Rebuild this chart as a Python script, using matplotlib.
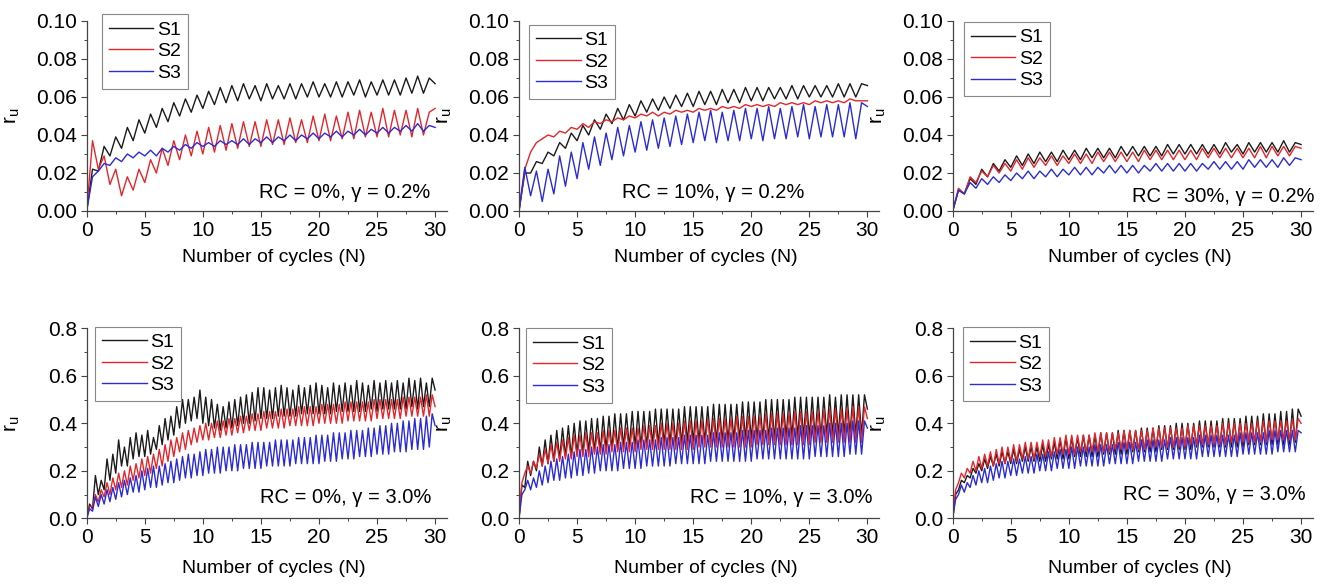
import numpy as np
import matplotlib
matplotlib.use("Agg")
import matplotlib.pyplot as plt
from matplotlib.ticker import MultipleLocator, FormatStrFormatter

plt.rcParams['font.family'] = ['Liberation Sans', 'DejaVu Sans']
plt.rcParams['mathtext.fontset'] = 'custom'
plt.rcParams['mathtext.rm'] = 'Liberation Sans'

# r_u: peak / trough of every load half-period
# top row (gamma = 0.2%): one oscillation per cycle, bottom row (3.0%): two per cycle
tl_s1_pk = [0.022, 0.034, 0.039, 0.044, 0.048, 0.051, 0.054, 0.057, 0.059, 0.061,
            0.063, 0.065, 0.066, 0.067, 0.066, 0.067, 0.066, 0.067, 0.067, 0.068,
            0.067, 0.068, 0.068, 0.069, 0.068, 0.069, 0.069, 0.070, 0.071, 0.070]
tl_s1_tr = [0.021, 0.029, 0.033, 0.037, 0.041, 0.044, 0.047, 0.050, 0.052, 0.054,
            0.056, 0.057, 0.058, 0.059, 0.058, 0.059, 0.059, 0.059, 0.060, 0.060,
            0.060, 0.060, 0.061, 0.060, 0.061, 0.061, 0.061, 0.062, 0.062, 0.067]
tl_s2_pk = [0.037, 0.029, 0.022, 0.018, 0.022, 0.027, 0.033, 0.037, 0.040, 0.042,
            0.044, 0.045, 0.046, 0.047, 0.047, 0.048, 0.048, 0.049, 0.048, 0.050,
            0.051, 0.050, 0.052, 0.053, 0.052, 0.054, 0.053, 0.053, 0.054, 0.052]
tl_s2_tr = [0.022, 0.014, 0.008, 0.011, 0.015, 0.020, 0.024, 0.027, 0.029, 0.030,
            0.031, 0.032, 0.033, 0.034, 0.034, 0.035, 0.035, 0.036, 0.036, 0.037,
            0.037, 0.038, 0.038, 0.039, 0.039, 0.039, 0.040, 0.039, 0.040, 0.054]
tl_s3_pk = [0.018, 0.025, 0.028, 0.030, 0.031, 0.032, 0.033, 0.034, 0.035, 0.036,
            0.036, 0.037, 0.037, 0.038, 0.038, 0.039, 0.039, 0.040, 0.040, 0.041,
            0.041, 0.042, 0.042, 0.043, 0.043, 0.044, 0.044, 0.045, 0.046, 0.045]
tl_s3_tr = [0.021, 0.024, 0.026, 0.028, 0.029, 0.029, 0.031, 0.032, 0.033, 0.034,
            0.034, 0.035, 0.035, 0.035, 0.036, 0.036, 0.037, 0.037, 0.038, 0.038,
            0.039, 0.039, 0.040, 0.040, 0.041, 0.041, 0.042, 0.042, 0.042, 0.044]

tm_s1_pk = [0.020, 0.026, 0.031, 0.036, 0.041, 0.045, 0.048, 0.051, 0.054, 0.056,
            0.058, 0.059, 0.060, 0.061, 0.062, 0.063, 0.063, 0.064, 0.064, 0.065,
            0.065, 0.065, 0.065, 0.066, 0.066, 0.066, 0.066, 0.067, 0.067, 0.067]
tm_s1_tr = [0.020, 0.025, 0.029, 0.033, 0.037, 0.040, 0.043, 0.046, 0.048, 0.050,
            0.052, 0.053, 0.054, 0.055, 0.055, 0.056, 0.056, 0.057, 0.057, 0.058,
            0.058, 0.059, 0.059, 0.059, 0.060, 0.060, 0.060, 0.060, 0.060, 0.066]
tm_s2_pk = [0.022, 0.036, 0.040, 0.042, 0.044, 0.046, 0.047, 0.048, 0.049, 0.050,
            0.051, 0.052, 0.052, 0.053, 0.053, 0.054, 0.054, 0.055, 0.055, 0.056,
            0.056, 0.056, 0.057, 0.057, 0.057, 0.058, 0.058, 0.058, 0.059, 0.058]
tm_s2_tr = [0.031, 0.038, 0.039, 0.041, 0.043, 0.044, 0.046, 0.047, 0.048, 0.049,
            0.050, 0.050, 0.051, 0.052, 0.052, 0.053, 0.053, 0.054, 0.054, 0.055,
            0.055, 0.055, 0.056, 0.056, 0.056, 0.057, 0.057, 0.057, 0.058, 0.058]
tm_s3_pk = [0.023, 0.021, 0.022, 0.029, 0.031, 0.036, 0.039, 0.041, 0.044, 0.045,
            0.047, 0.048, 0.049, 0.050, 0.051, 0.052, 0.053, 0.052, 0.053, 0.054,
            0.054, 0.055, 0.054, 0.055, 0.056, 0.055, 0.056, 0.056, 0.057, 0.057]
tm_s3_tr = [0.008, 0.005, 0.009, 0.013, 0.017, 0.022, 0.024, 0.027, 0.029, 0.031,
            0.032, 0.033, 0.034, 0.035, 0.036, 0.037, 0.036, 0.037, 0.037, 0.038,
            0.037, 0.038, 0.038, 0.039, 0.038, 0.039, 0.039, 0.039, 0.038, 0.055]

tr_s1_pk = [0.011, 0.017, 0.022, 0.025, 0.027, 0.029, 0.030, 0.031, 0.031, 0.032,
            0.032, 0.033, 0.033, 0.033, 0.034, 0.034, 0.034, 0.034, 0.035, 0.035,
            0.035, 0.035, 0.035, 0.036, 0.035, 0.036, 0.036, 0.036, 0.037, 0.036]
tr_s1_tr = [0.009, 0.014, 0.018, 0.021, 0.023, 0.024, 0.025, 0.026, 0.026, 0.027,
            0.027, 0.028, 0.028, 0.028, 0.029, 0.029, 0.029, 0.029, 0.030, 0.030,
            0.030, 0.030, 0.030, 0.031, 0.030, 0.031, 0.031, 0.031, 0.031, 0.035]
tr_s2_pk = [0.012, 0.018, 0.021, 0.024, 0.025, 0.027, 0.028, 0.028, 0.029, 0.029,
            0.030, 0.030, 0.031, 0.031, 0.031, 0.031, 0.032, 0.032, 0.032, 0.032,
            0.032, 0.033, 0.033, 0.033, 0.033, 0.033, 0.034, 0.034, 0.034, 0.034]
tr_s2_tr = [0.009, 0.015, 0.018, 0.020, 0.021, 0.022, 0.023, 0.024, 0.024, 0.025,
            0.025, 0.025, 0.026, 0.026, 0.026, 0.026, 0.027, 0.027, 0.027, 0.027,
            0.027, 0.028, 0.028, 0.028, 0.028, 0.028, 0.028, 0.029, 0.029, 0.033]
tr_s3_pk = [0.011, 0.015, 0.017, 0.018, 0.019, 0.020, 0.021, 0.021, 0.022, 0.022,
            0.023, 0.023, 0.023, 0.024, 0.024, 0.024, 0.024, 0.025, 0.025, 0.025,
            0.025, 0.025, 0.026, 0.026, 0.026, 0.027, 0.027, 0.027, 0.028, 0.028]
tr_s3_tr = [0.009, 0.012, 0.014, 0.015, 0.016, 0.017, 0.017, 0.018, 0.018, 0.019,
            0.019, 0.019, 0.020, 0.020, 0.020, 0.020, 0.021, 0.021, 0.021, 0.021,
            0.021, 0.022, 0.022, 0.022, 0.022, 0.023, 0.023, 0.023, 0.024, 0.027]

bl_s1_pk = [0.06, 0.18, 0.16, 0.25, 0.27, 0.33, 0.30, 0.34, 0.36, 0.35,
            0.37, 0.34, 0.39, 0.42, 0.43, 0.47, 0.50, 0.50, 0.51, 0.54,
            0.51, 0.50, 0.48, 0.47, 0.49, 0.50, 0.51, 0.52, 0.53, 0.55,
            0.55, 0.54, 0.55, 0.56, 0.55, 0.54, 0.56, 0.55, 0.56, 0.57,
            0.56, 0.55, 0.57, 0.56, 0.57, 0.56, 0.58, 0.57, 0.56, 0.58,
            0.57, 0.58, 0.57, 0.58, 0.57, 0.59, 0.58, 0.59, 0.57, 0.59]
bl_s1_tr = [0.04, 0.10, 0.12, 0.16, 0.19, 0.22, 0.22, 0.25, 0.26, 0.26,
            0.27, 0.29, 0.31, 0.33, 0.35, 0.38, 0.40, 0.41, 0.42, 0.40,
            0.39, 0.38, 0.37, 0.38, 0.38, 0.39, 0.40, 0.40, 0.41, 0.42,
            0.42, 0.42, 0.43, 0.43, 0.43, 0.43, 0.44, 0.44, 0.44, 0.44,
            0.44, 0.44, 0.45, 0.45, 0.45, 0.45, 0.45, 0.45, 0.46, 0.45,
            0.46, 0.46, 0.46, 0.46, 0.46, 0.47, 0.46, 0.47, 0.47, 0.54]
bl_s2_pk = [0.05, 0.10, 0.12, 0.15, 0.17, 0.19, 0.20, 0.22, 0.23, 0.25,
            0.26, 0.27, 0.29, 0.31, 0.33, 0.34, 0.36, 0.37, 0.38, 0.39,
            0.40, 0.40, 0.41, 0.41, 0.42, 0.42, 0.43, 0.43, 0.44, 0.44,
            0.45, 0.45, 0.45, 0.46, 0.46, 0.46, 0.47, 0.47, 0.47, 0.47,
            0.48, 0.48, 0.48, 0.48, 0.49, 0.49, 0.49, 0.49, 0.49, 0.50,
            0.50, 0.50, 0.50, 0.50, 0.51, 0.51, 0.51, 0.51, 0.52, 0.52]
bl_s2_tr = [0.05, 0.07, 0.09, 0.10, 0.12, 0.13, 0.14, 0.16, 0.17, 0.18,
            0.19, 0.21, 0.22, 0.24, 0.26, 0.28, 0.29, 0.31, 0.32, 0.33,
            0.33, 0.34, 0.34, 0.35, 0.35, 0.36, 0.36, 0.37, 0.37, 0.37,
            0.38, 0.38, 0.38, 0.38, 0.39, 0.39, 0.39, 0.39, 0.39, 0.40,
            0.40, 0.40, 0.40, 0.40, 0.41, 0.41, 0.41, 0.41, 0.41, 0.42,
            0.42, 0.42, 0.42, 0.42, 0.43, 0.43, 0.43, 0.43, 0.43, 0.47]
bl_s3_pk = [0.04, 0.09, 0.10, 0.12, 0.13, 0.15, 0.16, 0.17, 0.18, 0.20,
            0.21, 0.22, 0.22, 0.23, 0.24, 0.25, 0.26, 0.27, 0.27, 0.28,
            0.29, 0.29, 0.30, 0.30, 0.30, 0.31, 0.31, 0.31, 0.32, 0.32,
            0.32, 0.32, 0.33, 0.33, 0.33, 0.33, 0.34, 0.34, 0.34, 0.35,
            0.35, 0.35, 0.36, 0.36, 0.36, 0.37, 0.37, 0.37, 0.38, 0.38,
            0.39, 0.39, 0.40, 0.40, 0.41, 0.41, 0.42, 0.42, 0.43, 0.44]
bl_s3_tr = [0.03, 0.05, 0.06, 0.07, 0.08, 0.09, 0.10, 0.11, 0.11, 0.12,
            0.13, 0.13, 0.14, 0.15, 0.15, 0.16, 0.17, 0.17, 0.18, 0.18,
            0.19, 0.19, 0.19, 0.20, 0.20, 0.20, 0.21, 0.21, 0.21, 0.21,
            0.22, 0.22, 0.22, 0.22, 0.22, 0.23, 0.23, 0.23, 0.23, 0.23,
            0.24, 0.24, 0.24, 0.25, 0.25, 0.25, 0.26, 0.26, 0.26, 0.27,
            0.27, 0.27, 0.28, 0.28, 0.28, 0.29, 0.29, 0.29, 0.30, 0.39]

bm_s1_pk = [0.14, 0.24, 0.24, 0.30, 0.33, 0.35, 0.37, 0.38, 0.39, 0.40,
            0.41, 0.41, 0.42, 0.42, 0.43, 0.43, 0.44, 0.44, 0.44, 0.45,
            0.45, 0.45, 0.45, 0.46, 0.46, 0.46, 0.46, 0.46, 0.47, 0.47,
            0.47, 0.47, 0.47, 0.48, 0.48, 0.48, 0.48, 0.48, 0.49, 0.49,
            0.49, 0.49, 0.50, 0.50, 0.50, 0.50, 0.50, 0.51, 0.51, 0.51,
            0.51, 0.51, 0.51, 0.52, 0.51, 0.52, 0.52, 0.52, 0.52, 0.52]
bm_s1_tr = [0.13, 0.18, 0.20, 0.22, 0.23, 0.24, 0.25, 0.26, 0.26, 0.27,
            0.27, 0.28, 0.28, 0.28, 0.29, 0.29, 0.29, 0.30, 0.30, 0.30,
            0.30, 0.30, 0.31, 0.31, 0.31, 0.31, 0.31, 0.31, 0.32, 0.32,
            0.32, 0.32, 0.32, 0.32, 0.32, 0.32, 0.33, 0.33, 0.33, 0.33,
            0.33, 0.33, 0.33, 0.33, 0.33, 0.34, 0.34, 0.34, 0.34, 0.34,
            0.34, 0.34, 0.35, 0.35, 0.35, 0.35, 0.35, 0.35, 0.35, 0.46]
bm_s2_pk = [0.15, 0.22, 0.24, 0.27, 0.29, 0.31, 0.32, 0.33, 0.34, 0.35,
            0.35, 0.36, 0.36, 0.36, 0.37, 0.37, 0.37, 0.38, 0.38, 0.38,
            0.38, 0.39, 0.39, 0.39, 0.40, 0.40, 0.40, 0.40, 0.41, 0.41,
            0.41, 0.41, 0.42, 0.42, 0.42, 0.42, 0.42, 0.43, 0.43, 0.43,
            0.43, 0.43, 0.44, 0.44, 0.44, 0.44, 0.44, 0.45, 0.45, 0.45,
            0.45, 0.45, 0.46, 0.46, 0.46, 0.46, 0.46, 0.47, 0.47, 0.47]
bm_s2_tr = [0.19, 0.19, 0.21, 0.22, 0.23, 0.24, 0.24, 0.25, 0.25, 0.26,
            0.26, 0.26, 0.27, 0.27, 0.27, 0.28, 0.28, 0.28, 0.28, 0.28,
            0.29, 0.29, 0.29, 0.29, 0.29, 0.29, 0.29, 0.29, 0.29, 0.29,
            0.30, 0.30, 0.30, 0.30, 0.30, 0.30, 0.30, 0.30, 0.30, 0.30,
            0.31, 0.31, 0.31, 0.31, 0.31, 0.31, 0.31, 0.31, 0.31, 0.31,
            0.32, 0.32, 0.32, 0.32, 0.32, 0.32, 0.32, 0.32, 0.32, 0.42]
bm_s3_pk = [0.10, 0.16, 0.17, 0.20, 0.22, 0.24, 0.25, 0.26, 0.27, 0.28,
            0.29, 0.29, 0.30, 0.30, 0.31, 0.31, 0.31, 0.32, 0.32, 0.32,
            0.33, 0.33, 0.33, 0.33, 0.34, 0.34, 0.34, 0.34, 0.35, 0.35,
            0.35, 0.35, 0.35, 0.36, 0.36, 0.36, 0.36, 0.36, 0.37, 0.37,
            0.37, 0.37, 0.37, 0.38, 0.38, 0.38, 0.38, 0.38, 0.39, 0.39,
            0.39, 0.39, 0.39, 0.40, 0.40, 0.40, 0.40, 0.41, 0.41, 0.41]
bm_s3_tr = [0.12, 0.12, 0.13, 0.14, 0.15, 0.16, 0.16, 0.17, 0.17, 0.18,
            0.18, 0.19, 0.19, 0.20, 0.20, 0.20, 0.20, 0.21, 0.21, 0.21,
            0.21, 0.22, 0.22, 0.22, 0.22, 0.22, 0.23, 0.23, 0.23, 0.23,
            0.23, 0.23, 0.24, 0.24, 0.24, 0.24, 0.24, 0.24, 0.24, 0.24,
            0.25, 0.25, 0.25, 0.25, 0.25, 0.25, 0.25, 0.25, 0.25, 0.25,
            0.26, 0.26, 0.26, 0.26, 0.26, 0.26, 0.27, 0.27, 0.27, 0.38]

br_s1_pk = [0.10, 0.16, 0.18, 0.21, 0.23, 0.25, 0.26, 0.27, 0.28, 0.28,
            0.29, 0.29, 0.30, 0.30, 0.30, 0.31, 0.31, 0.32, 0.33, 0.34,
            0.34, 0.34, 0.35, 0.35, 0.35, 0.36, 0.36, 0.36, 0.37, 0.37,
            0.37, 0.37, 0.38, 0.38, 0.38, 0.39, 0.39, 0.39, 0.40, 0.40,
            0.40, 0.40, 0.41, 0.41, 0.41, 0.41, 0.42, 0.42, 0.42, 0.42,
            0.43, 0.43, 0.43, 0.44, 0.44, 0.44, 0.45, 0.45, 0.46, 0.46]
br_s1_tr = [0.12, 0.15, 0.17, 0.19, 0.20, 0.21, 0.22, 0.22, 0.23, 0.23,
            0.23, 0.24, 0.24, 0.24, 0.24, 0.24, 0.25, 0.25, 0.25, 0.25,
            0.26, 0.26, 0.26, 0.26, 0.26, 0.27, 0.27, 0.27, 0.27, 0.27,
            0.28, 0.28, 0.28, 0.28, 0.28, 0.29, 0.29, 0.29, 0.29, 0.29,
            0.29, 0.30, 0.30, 0.30, 0.30, 0.30, 0.30, 0.30, 0.30, 0.30,
            0.31, 0.31, 0.31, 0.31, 0.31, 0.31, 0.31, 0.31, 0.32, 0.43]
br_s2_pk = [0.12, 0.19, 0.21, 0.24, 0.26, 0.27, 0.28, 0.29, 0.30, 0.30,
            0.31, 0.31, 0.32, 0.32, 0.32, 0.33, 0.33, 0.34, 0.34, 0.35,
            0.35, 0.35, 0.35, 0.35, 0.36, 0.36, 0.36, 0.36, 0.36, 0.37,
            0.37, 0.37, 0.37, 0.37, 0.38, 0.38, 0.38, 0.38, 0.38, 0.38,
            0.39, 0.39, 0.39, 0.39, 0.39, 0.39, 0.40, 0.40, 0.40, 0.40,
            0.40, 0.40, 0.41, 0.41, 0.41, 0.41, 0.41, 0.41, 0.42, 0.42]
br_s2_tr = [0.15, 0.17, 0.19, 0.20, 0.21, 0.22, 0.22, 0.23, 0.23, 0.24,
            0.24, 0.25, 0.25, 0.25, 0.26, 0.26, 0.26, 0.27, 0.27, 0.27,
            0.27, 0.28, 0.28, 0.28, 0.28, 0.28, 0.28, 0.29, 0.29, 0.29,
            0.29, 0.29, 0.29, 0.30, 0.30, 0.30, 0.30, 0.30, 0.30, 0.30,
            0.31, 0.31, 0.31, 0.31, 0.31, 0.31, 0.31, 0.32, 0.32, 0.32,
            0.32, 0.32, 0.32, 0.32, 0.33, 0.33, 0.33, 0.33, 0.33, 0.40]
br_s3_pk = [0.08, 0.14, 0.15, 0.18, 0.20, 0.21, 0.22, 0.23, 0.24, 0.24,
            0.25, 0.25, 0.26, 0.26, 0.27, 0.27, 0.28, 0.28, 0.29, 0.29,
            0.30, 0.30, 0.30, 0.30, 0.31, 0.31, 0.31, 0.31, 0.32, 0.32,
            0.32, 0.32, 0.33, 0.33, 0.33, 0.33, 0.33, 0.34, 0.34, 0.34,
            0.34, 0.34, 0.35, 0.35, 0.35, 0.35, 0.35, 0.35, 0.35, 0.36,
            0.36, 0.36, 0.36, 0.36, 0.37, 0.37, 0.37, 0.37, 0.37, 0.37]
br_s3_tr = [0.10, 0.11, 0.13, 0.14, 0.15, 0.15, 0.16, 0.17, 0.17, 0.18,
            0.18, 0.19, 0.19, 0.19, 0.20, 0.20, 0.20, 0.21, 0.21, 0.21,
            0.21, 0.22, 0.22, 0.22, 0.22, 0.22, 0.23, 0.23, 0.23, 0.23,
            0.23, 0.24, 0.24, 0.24, 0.24, 0.24, 0.25, 0.25, 0.25, 0.25,
            0.25, 0.25, 0.26, 0.26, 0.26, 0.26, 0.26, 0.26, 0.26, 0.27,
            0.27, 0.27, 0.27, 0.27, 0.27, 0.28, 0.28, 0.28, 0.28, 0.36]

labels = ['S1', 'S2', 'S3']
colors = ['#1a1a1a', '#e4262b', '#2b2bd6']
notes = ['RC = 0%, \u03b3 = 0.2%', 'RC = 10%, \u03b3 = 0.2%', 'RC = 30%, \u03b3 = 0.2%',
         'RC = 0%, \u03b3 = 3.0%', 'RC = 10%, \u03b3 = 3.0%', 'RC = 30%, \u03b3 = 3.0%']

panels = [
    [(tl_s1_pk, tl_s1_tr), (tl_s2_pk, tl_s2_tr), (tl_s3_pk, tl_s3_tr)],
    [(tm_s1_pk, tm_s1_tr), (tm_s2_pk, tm_s2_tr), (tm_s3_pk, tm_s3_tr)],
    [(tr_s1_pk, tr_s1_tr), (tr_s2_pk, tr_s2_tr), (tr_s3_pk, tr_s3_tr)],
    [(bl_s1_pk, bl_s1_tr), (bl_s2_pk, bl_s2_tr), (bl_s3_pk, bl_s3_tr)],
    [(bm_s1_pk, bm_s1_tr), (bm_s2_pk, bm_s2_tr), (bm_s3_pk, bm_s3_tr)],
    [(br_s1_pk, br_s1_tr), (br_s2_pk, br_s2_tr), (br_s3_pk, br_s3_tr)],
]


def trace(pk, tr):
    # start at zero, then alternate peak / trough
    y = [0.0]
    for p, t in zip(pk, tr):
        y += [p, t]
    x = np.linspace(0, 30, len(y))
    return x, y


W, H = 1338, 587
fig = plt.figure(figsize=(W / 100, H / 100), dpi=100)

col_left = [86.7, 519, 952.7]
row_base = [211, 518.3]
ax_w = 360
ax_h = 190
# legend top-left corner and note position (axes fractions)
leg_pos = [(0.042, 1.035), (0.028, 0.98), (0.031, 0.995),
           (0.023, 1.008), (0.019, 1.0), (0.029, 1.006)]
note_pos = [(0.954, 0.095), (0.794, 0.095), (1.006, 0.074),
            (0.958, 0.112), (0.983, 0.107), (0.979, 0.123)]

for i, series in enumerate(panels):
    r, c = divmod(i, 3)
    ax = fig.add_axes([col_left[c] / W, (H - row_base[r]) / H, ax_w / W, ax_h / H])
    for (pk, tr), lab, col in zip(series, labels, colors):
        x, y = trace(pk, tr)
        ax.plot(x, y, color=col, lw=1.0, label=lab)

    ax.set_xlim(0, 31)
    ax.xaxis.set_major_locator(MultipleLocator(5))
    ax.xaxis.set_minor_locator(MultipleLocator(2.5))
    if r == 0:
        ax.set_ylim(0, 0.10)
        ax.yaxis.set_major_locator(MultipleLocator(0.02))
        ax.yaxis.set_minor_locator(MultipleLocator(0.01))
        ax.yaxis.set_major_formatter(FormatStrFormatter('%.2f'))
    else:
        ax.set_ylim(0, 0.8)
        ax.yaxis.set_major_locator(MultipleLocator(0.2))
        ax.yaxis.set_minor_locator(MultipleLocator(0.1))
        ax.yaxis.set_major_formatter(FormatStrFormatter('%.1f'))

    for s in ['top', 'right']:
        ax.spines[s].set_visible(False)
    for s in ['left', 'bottom']:
        ax.spines[s].set_color('#444444')
        ax.spines[s].set_linewidth(0.9)
    ax.tick_params(which='major', direction='out', length=4, width=0.8,
                   color='#444444', labelsize=15, pad=3)
    ax.tick_params(which='minor', direction='out', length=2.5, width=0.7, color='#444444')

    ax.set_xlabel('Number of cycles (N)', fontsize=14)
    ax.xaxis.set_label_coords(0.52, -0.2 if r == 0 else -0.22)
    ax.set_ylabel(r'$\mathregular{r_u}$', fontsize=15)
    ax.yaxis.set_label_coords(-0.18, 0.5)

    ax.text(note_pos[i][0], note_pos[i][1], notes[i], transform=ax.transAxes,
            ha='right', va='center', fontsize=14.5)

    leg = ax.legend(loc='upper left', bbox_to_anchor=leg_pos[i], borderaxespad=0,
                    fontsize=14, handlelength=2.3, handletextpad=0.2,
                    labelspacing=0.2, borderpad=0.35, fancybox=False,
                    framealpha=1, edgecolor='#888888')
    leg.get_frame().set_linewidth(0.8)

fig.savefig('out.png', dpi=100)
